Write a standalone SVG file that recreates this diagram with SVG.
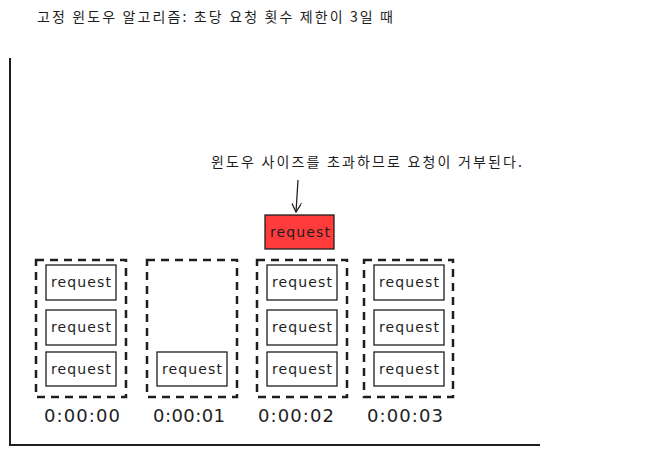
<svg xmlns="http://www.w3.org/2000/svg" width="645" height="455" viewBox="0 0 645 455">
<defs>
<style>
.title{font-family:"Noto Sans CJK KR","Noto Sans",sans-serif;font-size:14px;fill:#1e1e1e}
.win{fill:none;stroke:#1e1e1e;stroke-width:2.5;stroke-dasharray:8 6}
.req{fill:#fff;stroke:#1e1e1e;stroke-width:1.3}
.rej{fill:#ff3b3b;stroke:#1e1e1e;stroke-width:1.3}
.rt{font-family:"DejaVu Sans",sans-serif;font-size:14px;fill:#1e1e1e;text-anchor:middle}
.tl{font-family:"DejaVu Sans",sans-serif;font-size:18px;fill:#1e1e1e;text-anchor:middle}
.axis{fill:none;stroke:#1e1e1e;stroke-width:2}
</style>
<marker id="ah" viewBox="0 0 10 10" refX="9" refY="5" markerWidth="10" markerHeight="10" orient="auto" markerUnits="userSpaceOnUse">
<path d="M0,0 L9,5 L0,10" fill="none" stroke="#1e1e1e" stroke-width="1.3"/>
</marker>
</defs>
<rect width="645" height="455" fill="#fff"/>
<text class="title" x="37" y="22" textLength="356" lengthAdjust="spacing">고정 윈도우 알고리즘: 초당 요청 횟수 제한이 3일 때</text>
<g id="axes">
<path class="axis" d="M10,58 L10,445 L540,445"/>
</g>
<g id="window-0">
<rect class="win" x="36" y="260" width="90" height="137"/>
<rect class="req" x="46" y="265" width="70" height="35"/><text class="rt" x="81" y="287" textLength="60">request</text>
<rect class="req" x="46" y="310" width="70" height="35"/><text class="rt" x="81" y="332" textLength="60">request</text>
<rect class="req" x="46" y="352" width="70" height="34"/><text class="rt" x="81" y="374" textLength="60">request</text>
<text class="tl" x="82" y="422" textLength="76">0:00:00</text>
</g>
<g id="window-1">
<rect class="win" x="147" y="260" width="90" height="137"/>
<rect class="req" x="157" y="352" width="70" height="34"/><text class="rt" x="192" y="374" textLength="60">request</text>
<text class="tl" x="189" y="422" textLength="72">0:00:01</text>
</g>
<g id="window-2">
<rect class="win" x="257" y="260" width="90" height="137"/>
<rect class="req" x="267" y="265" width="70" height="35"/><text class="rt" x="302" y="287" textLength="60">request</text>
<rect class="req" x="267" y="310" width="70" height="35"/><text class="rt" x="302" y="332" textLength="60">request</text>
<rect class="req" x="267" y="352" width="70" height="34"/><text class="rt" x="302" y="374" textLength="60">request</text>
<text class="tl" x="296" y="422" textLength="76">0:00:02</text>
</g>
<g id="window-3">
<rect class="win" x="364" y="260" width="89" height="137"/>
<rect class="req" x="374" y="265" width="70" height="35"/><text class="rt" x="409" y="287" textLength="60">request</text>
<rect class="req" x="374" y="310" width="70" height="35"/><text class="rt" x="409" y="332" textLength="60">request</text>
<rect class="req" x="374" y="352" width="70" height="34"/><text class="rt" x="409" y="374" textLength="60">request</text>
<text class="tl" x="405" y="422" textLength="76">0:00:03</text>
</g>
<g id="rejected">
<rect class="rej" x="265" y="215" width="69" height="34"/><text class="rt" x="300" y="237" textLength="60">request</text>
</g>
<g id="note">
<text class="title" x="211" y="167" textLength="311" lengthAdjust="spacing">윈도우 사이즈를 초과하므로 요청이 거부된다.</text>
</g>
<g id="connectors">
<path d="M298,180 L296,212" fill="none" stroke="#1e1e1e" stroke-width="1.3" marker-end="url(#ah)"/>
</g>
</svg>
